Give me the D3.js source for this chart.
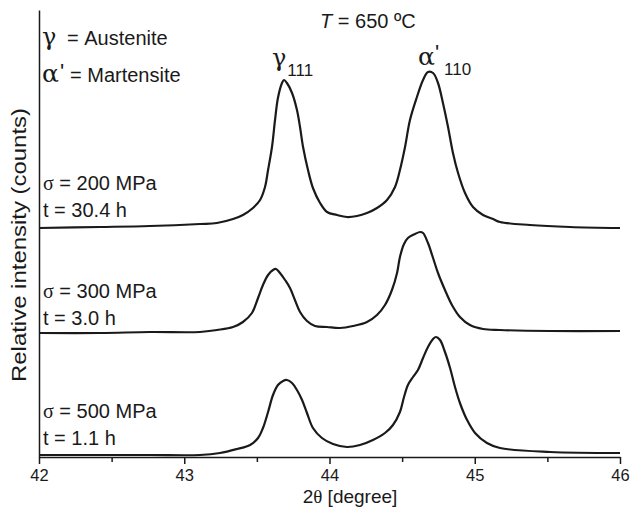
<!DOCTYPE html>
<html>
<head>
<meta charset="utf-8">
<script src="https://cdn.jsdelivr.net/npm/d3@7"></script>
<style>
    body { margin: 0; background: #fff; }
    text { font-family: "Liberation Sans", Arial, sans-serif; fill: #1a1a1a; }
    .greek { font-family: "Liberation Serif", "DejaVu Serif", serif; }
    .symbol { font-family: "DejaVu Serif", "Liberation Serif", serif; }
</style>
</head>
<body>
<svg id="chart" width="638" height="508"></svg>
<script>
// 2theta positions (degree) and relative intensity
const theta200 = [42.000, 42.420, 42.764, 43.108, 43.225, 43.336, 43.404, 43.473, 43.522, 43.556,
    43.577, 43.604, 43.625, 43.645, 43.673, 43.687, 43.707, 43.742, 43.776, 43.797,
    43.818, 43.852, 43.886, 43.935, 43.983, 44.052, 44.120, 44.189, 44.258, 44.327,
    44.396, 44.451, 44.485, 44.520, 44.554, 44.602, 44.644, 44.678, 44.713, 44.747,
    44.781, 44.816, 44.850, 44.885, 44.933, 44.988, 45.057, 45.126, 45.174, 45.380,
    45.656, 46.000];
const counts200 = [229, 230, 231, 233, 234, 238, 242, 249, 257, 270,
    287, 310, 337, 359, 374, 377, 374, 364, 347, 330,
    310, 287, 269, 254, 245, 242, 240, 241, 244, 249,
    257, 270, 287, 310, 337, 360, 377, 385, 384, 374,
    354, 330, 304, 284, 264, 250, 242, 238, 235, 232,
    230, 229];

const theta300 = [42.000, 42.420, 42.764, 43.108, 43.225, 43.336, 43.404, 43.466, 43.508, 43.542,
    43.577, 43.611, 43.632, 43.659, 43.694, 43.728, 43.762, 43.797, 43.845, 43.900,
    43.983, 44.072, 44.162, 44.258, 44.327, 44.382, 44.430, 44.465, 44.485, 44.513,
    44.540, 44.589, 44.623, 44.644, 44.678, 44.713, 44.747, 44.795, 44.843, 44.898,
    44.967, 45.057, 45.174, 45.518, 46.000];
const counts300 = [124, 124, 125, 125, 127, 130, 135, 144, 159, 172,
    182, 187, 188, 184, 177, 169, 157, 145, 136, 131,
    130, 129, 131, 135, 142, 152, 167, 184, 200, 213,
    219, 223, 225, 224, 214, 199, 184, 167, 152, 140,
    132, 128, 127, 126, 126];

const theta500 = [42.000, 42.420, 42.764, 43.108, 43.246, 43.363, 43.453, 43.508, 43.542, 43.577,
    43.611, 43.645, 43.680, 43.707, 43.742, 43.776, 43.811, 43.845, 43.886, 43.948,
    44.024, 44.120, 44.210, 44.299, 44.382, 44.437, 44.485, 44.513, 44.540, 44.575,
    44.609, 44.644, 44.678, 44.713, 44.733, 44.761, 44.795, 44.830, 44.864, 44.898,
    44.947, 45.002, 45.084, 45.174, 45.518, 46.000];
const counts500 = [2, 2, 2, 2, 4, 8, 12, 19, 29, 45,
    62, 72, 76, 77, 74, 67, 57, 44, 29, 19,
    13, 10, 12, 17, 24, 32, 45, 60, 72, 80,
    87, 99, 110, 118, 120, 117, 105, 89, 70, 54,
    37, 24, 14, 9, 5, 4];

const xTicks = [42, 43, 44, 45, 46];
const xMinorTicks = [42.5, 43.5, 44.5, 45.5];

const sampleStress = ["200 MPa", "300 MPa", "500 MPa"];
const sampleTime = ["30.4 h", "3.0 h", "1.1 h"];

// Set up scales
const svg = d3.select('#chart');
const x = d3.scaleLinear().domain([42, 46]).range([39, 620]);
const y = d3.scaleLinear().domain([0, 447]).range([457, 10]);

const series = [
    {theta: theta200, counts: counts200},
    {theta: theta300, counts: counts300},
    {theta: theta500, counts: counts500}
];

// Axes
svg.append('g')
    .attr('transform', `translate(0,${y(0)})`)
    .call(d3.axisBottom(x).tickValues(xMinorTicks).tickSize(5).tickSizeOuter(0).tickFormat(''))
    .call(g => g.select('.domain').remove());

const xAxis = svg.append('g')
    .attr('transform', `translate(0,${y(0)})`)
    .call(d3.axisBottom(x).tickValues(xTicks).tickSize(7).tickSizeOuter(0).tickFormat(d3.format('d')));
xAxis.selectAll('text')
    .attr('y', 24)
    .attr('dy', 0)
    .style('font-size', '16.5px')
    .style('font-family', '"Liberation Sans", Arial, sans-serif')
    .attr('fill', '#1a1a1a');

svg.append('g')
    .attr('transform', `translate(${x(42)},0)`)
    .call(d3.axisLeft(y).tickValues([]).tickSizeOuter(0));

svg.selectAll('.domain, .tick line')
    .attr('stroke', '#1a1a1a')
    .attr('stroke-width', 1.5);

// Diffraction patterns
const line = d3.line()
    .x(d => x(d[0]))
    .y(d => y(d[1]))
    .curve(d3.curveCatmullRom.alpha(0.5));

svg.selectAll('.pattern')
    .data(series)
    .enter()
    .append('path')
    .attr('class', 'pattern')
    .attr('fill', 'none')
    .attr('stroke', '#1a1a1a')
    .attr('stroke-width', 2.2)
    .attr('stroke-linejoin', 'round')
    .attr('d', s => line(s.theta.map((t, i) => [t, s.counts[i]])));

// Axis titles
const xTitle = svg.append('text')
    .attr('x', 350)
    .attr('y', 503)
    .attr('text-anchor', 'middle')
    .style('font-size', '19px');
xTitle.append('tspan').text('2');
xTitle.append('tspan').attr('class', 'greek').text('θ');
xTitle.append('tspan').text(' [degree]');

svg.append('text')
    .attr('transform', 'translate(26,245) rotate(-90)')
    .attr('text-anchor', 'middle')
    .attr('textLength', 274)
    .attr('lengthAdjust', 'spacingAndGlyphs')
    .style('font-size', '20px')
    .text('Relative intensity (counts)');

// Legend for phases
const leg1 = svg.append('text').attr('y', 45).style('font-size', '20px');
leg1.append('tspan').attr('x', 42).attr('class', 'symbol').style('font-size', '24px').text('γ');
leg1.append('tspan').attr('x', 67).text('= Austenite');

const leg2 = svg.append('text').attr('y', 82).style('font-size', '20px');
leg2.append('tspan').attr('x', 42).attr('class', 'symbol').style('font-size', '25px').text('α');
leg2.append('tspan').attr('x', 60).attr('dy', -3).style('font-size', '22px').text("'");
leg2.append('tspan').attr('x', 70).attr('dy', 3).text('= Martensite');

// Temperature
const temp = svg.append('text').attr('x', 320).attr('y', 28).style('font-size', '20px');
temp.append('tspan').style('font-style', 'italic').text('T');
temp.append('tspan').text(' = 650 ºC');

// Peak labels
const gLabel = svg.append('text').attr('x', 272).attr('y', 66);
gLabel.append('tspan').attr('class', 'symbol').style('font-size', '24px').text('γ');
gLabel.append('tspan').attr('dy', 10).attr('dx', 1).style('font-size', '17px').text('111');

const aLabel = svg.append('text').attr('x', 418).attr('y', 65);
aLabel.append('tspan').attr('class', 'symbol').style('font-size', '25px').text('α');
aLabel.append('tspan').attr('dy', -5).style('font-size', '22px').text("'");
aLabel.append('tspan').attr('dy', 15).attr('dx', 5).style('font-size', '17px').text('110');

// Sample conditions
const condY = [[190, 217], [298, 325], [418, 445]];
sampleStress.forEach((s, i) => {
    const t = svg.append('text').attr('x', 43).attr('y', condY[i][0]).style('font-size', '20px');
    t.append('tspan').attr('class', 'greek').text('σ');
    t.append('tspan').text(' = ' + s);
    svg.append('text')
        .attr('x', 43)
        .attr('y', condY[i][1])
        .style('font-size', '20px')
        .text('t = ' + sampleTime[i]);
});
</script>
</body>
</html>
